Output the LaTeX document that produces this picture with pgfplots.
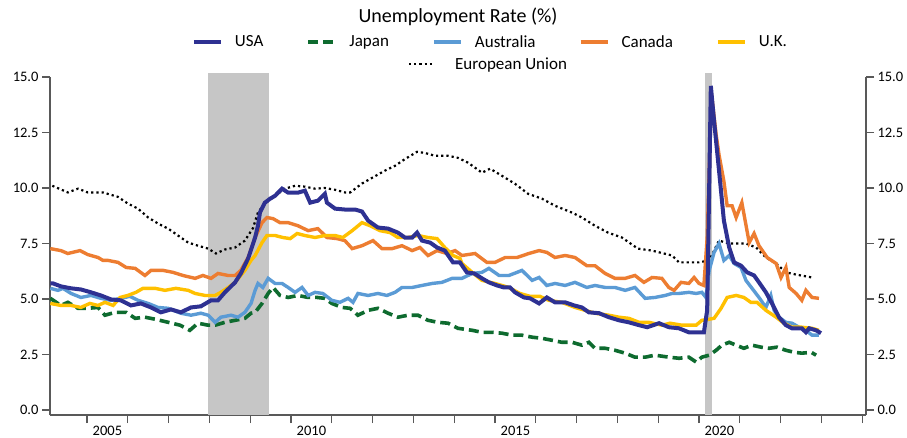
\documentclass[border=0pt]{standalone}
\usepackage{pgfplots}
\pgfplotsset{compat=1.18}
\usepackage{fontspec}
\setmainfont{Carlito}
\definecolor{usa}{HTML}{2E3192}
\definecolor{japan}{HTML}{0E6B2F}
\definecolor{aus}{HTML}{5B9BD5}
\definecolor{can}{HTML}{ED7D31}
\definecolor{uk}{HTML}{FFC000}
\definecolor{shade}{HTML}{C6C6C6}
\definecolor{axisgray}{HTML}{595959}
\pgfplotsset{
  common/.style={
    at={(50bp,23bp)}, anchor=south west,
    scale only axis, width=816bp, height=338bp,
    xmin=2004.093, xmax=2024.093, ymin=-0.225, ymax=15,
    axis line style={draw=axisgray, line width=2bp},
    tick style={draw=axisgray, line width=1.3bp},
    tick align=outside, major tick length=8bp,
    ytick={0,2.5,5,7.5,10,12.5,15},
    yticklabel style={/pgf/number format/.cd, fixed, fixed zerofill, precision=1},
    /pgf/number format/assume math mode=true,
    ticklabel style={font=\fontsize{14.5bp}{17bp}\selectfont, text=black},
  }
}
\begin{document}
\begin{tikzpicture}
\path[use as bounding box] (0,0) rectangle (907bp,438bp);
\node[anchor=base, font=\fontsize{20bp}{24bp}\selectfont] at (458bp,415bp) {Unemployment Rate (\%)};
\begin{axis}[common,
  clip=false,
  axis x line*=bottom, axis y line*=left,
  xtick={2005,2006,...,2024}, xticklabels={},
  extra x ticks={2005.5,2010.5,2015.5,2020.5},
  extra x tick labels={2005,2010,2015,2020},
  extra x tick style={tick style={draw=none}},
  legend columns=5,
  legend image code/.code={\draw[#1] (0bp,0bp) -- (27bp,0bp);},
  legend style={at={(0.174,1.1036)}, anchor=west, draw=none, fill=none,
    inner sep=0bp, outer sep=0bp,
    font=\fontsize{17bp}{20bp}\selectfont,
    nodes={inner sep=0bp},
    /tikz/every odd column/.append style={column sep=12bp},
    /tikz/every even column/.append style={column sep=43bp}},
]
\addlegendimage{usa, line width=4bp}
\addlegendentry{USA}
\addlegendimage{japan, line width=4bp, dash pattern=on 10bp off 5bp}
\addlegendentry{Japan}
\addlegendimage{aus, line width=4bp}
\addlegendentry{Australia}
\addlegendimage{can, line width=4bp}
\addlegendentry{Canada}
\addlegendimage{uk, line width=4bp}
\addlegendentry{U.K.}
% recession shading
\addplot[forget plot, fill=shade, draw=none] coordinates {(2007.97,-0.225) (2007.97,15.18) (2009.46,15.18) (2009.46,-0.225)} -- cycle;
\addplot[forget plot, fill=shade, draw=none] coordinates {(2020.15,-0.225) (2020.15,15.18) (2020.32,15.18) (2020.32,-0.225)} -- cycle;
% EU
\addplot[forget plot, black, line width=2.2bp, dash pattern=on 2.2bp off 3bp] coordinates {
(2004.15,10.1) (2004.53,9.8) (2004.78,9.97) (2005.02,9.8) (2005.39,9.8) (2005.76,9.6) (2006.0,9.3) (2006.25,9.07) (2006.5,8.67) (2006.74,8.4) (2006.99,8.17) (2007.23,7.86) (2007.48,7.54) (2007.72,7.4) (2007.97,7.27) (2008.16,7.05) (2008.38,7.23) (2008.63,7.32) (2008.87,7.63) (2009.07,8.2) (2009.19,8.9) (2009.36,9.3) (2009.61,9.65) (2009.85,9.97) (2010.1,10.1) (2010.34,10.06) (2010.59,9.97) (2010.83,10.0) (2011.08,9.92) (2011.32,9.8) (2011.45,9.8) (2011.74,10.2) (2011.99,10.46) (2012.3,10.78) (2012.55,11.0) (2012.79,11.3) (2013.09,11.63) (2013.28,11.58) (2013.53,11.45) (2013.85,11.45) (2014.09,11.36) (2014.34,11.14) (2014.68,10.69) (2014.88,10.87) (2015.17,10.55) (2015.49,10.19) (2015.81,9.74) (2016.15,9.52) (2016.47,9.2) (2016.89,8.89) (2017.13,8.67) (2017.45,8.3) (2017.77,7.99) (2018.11,7.77) (2018.5,7.27) (2018.85,7.18) (2019.34,6.96) (2019.51,6.65) (2020.0,6.65) (2020.25,6.74) (2020.49,7.63) (2020.74,7.5) (2021.15,7.5) (2021.4,7.32) (2021.64,6.87) (2021.89,6.6) (2022.13,6.2) (2022.38,6.1) (2022.77,5.97)};
% Japan
\addplot[forget plot, japan, line width=3.6bp, dash pattern=on 10bp off 5bp] coordinates {
(2004.1,5.03) (2004.36,4.71) (2004.53,4.85) (2004.78,4.58) (2005.02,4.58) (2005.27,4.62) (2005.44,4.27) (2005.69,4.4) (2005.96,4.4) (2006.18,4.13) (2006.42,4.18) (2006.67,4.09) (2006.99,3.95) (2007.28,3.82) (2007.52,3.59) (2007.72,3.91) (2007.97,3.82) (2008.14,3.82) (2008.38,3.95) (2008.63,4.04) (2008.87,4.13) (2009.02,4.36) (2009.12,4.4) (2009.29,4.8) (2009.44,5.25) (2009.56,5.52) (2009.73,5.16) (2009.93,5.07) (2010.17,5.16) (2010.42,5.07) (2010.64,5.07) (2010.83,5.03) (2011.0,4.8) (2011.25,4.62) (2011.45,4.58) (2011.64,4.27) (2011.89,4.49) (2012.13,4.58) (2012.38,4.36) (2012.62,4.18) (2012.87,4.27) (2013.11,4.27) (2013.36,4.04) (2013.6,3.95) (2013.85,3.91) (2014.09,3.68) (2014.44,3.59) (2014.68,3.5) (2014.93,3.5) (2015.17,3.46) (2015.42,3.37) (2015.66,3.37) (2015.91,3.28) (2016.15,3.23) (2016.4,3.14) (2016.64,3.05) (2016.89,3.05) (2017.13,2.92) (2017.3,3.05) (2017.45,2.78) (2017.7,2.78) (2017.94,2.69) (2018.19,2.56) (2018.43,2.38) (2018.68,2.38) (2018.92,2.47) (2019.26,2.38) (2019.51,2.33) (2019.75,2.38) (2019.93,2.16) (2020.07,2.38) (2020.25,2.47) (2020.42,2.69) (2020.56,2.92) (2020.74,3.05) (2020.91,2.92) (2021.1,2.78) (2021.3,2.92) (2021.52,2.83) (2021.72,2.78) (2021.91,2.83) (2022.13,2.69) (2022.33,2.6) (2022.52,2.56) (2022.75,2.6) (2022.87,2.47)};
% Australia
\addplot[forget plot, aus, line width=3.4bp] coordinates {
(2004.1,5.48) (2004.29,5.39) (2004.41,5.48) (2004.61,5.25) (2004.85,5.07) (2005.1,5.16) (2005.34,5.03) (2005.59,4.94) (2005.83,5.03) (2006.05,5.12) (2006.25,4.94) (2006.5,4.8) (2006.74,4.62) (2006.99,4.58) (2007.3,4.36) (2007.55,4.27) (2007.79,4.36) (2007.97,4.27) (2008.14,3.95) (2008.28,4.18) (2008.53,4.27) (2008.7,4.18) (2008.87,4.4) (2009.02,4.8) (2009.12,5.39) (2009.19,5.7) (2009.31,5.52) (2009.44,5.93) (2009.61,5.7) (2009.78,5.7) (2009.93,5.52) (2010.1,5.3) (2010.27,5.52) (2010.42,5.16) (2010.59,5.3) (2010.78,5.25) (2011.0,4.94) (2011.2,4.85) (2011.4,5.03) (2011.52,4.85) (2011.64,5.25) (2011.89,5.16) (2012.13,5.25) (2012.35,5.16) (2012.55,5.3) (2012.72,5.52) (2012.97,5.52) (2013.21,5.61) (2013.46,5.7) (2013.7,5.75) (2013.95,5.93) (2014.19,5.93) (2014.44,6.15) (2014.68,6.2) (2014.85,6.38) (2015.1,6.06) (2015.34,6.06) (2015.54,6.2) (2015.66,6.29) (2015.91,5.84) (2016.08,5.97) (2016.27,5.61) (2016.47,5.7) (2016.72,5.61) (2016.96,5.75) (2017.25,5.52) (2017.45,5.61) (2017.7,5.52) (2017.94,5.52) (2018.19,5.39) (2018.43,5.52) (2018.68,5.03) (2018.92,5.07) (2019.17,5.16) (2019.34,5.25) (2019.51,5.25) (2019.75,5.3) (2019.93,5.25) (2020.07,5.3) (2020.17,5.07) (2020.25,6.29) (2020.37,7.1) (2020.49,7.5) (2020.61,6.74) (2020.74,6.96) (2020.86,6.6) (2021.03,6.42) (2021.15,5.84) (2021.3,5.48) (2021.47,5.07) (2021.64,4.62) (2021.76,5.16) (2021.84,4.49) (2021.96,4.18) (2022.13,3.95) (2022.28,3.91) (2022.45,3.73) (2022.62,3.59) (2022.77,3.37) (2022.94,3.37)};
% Canada
\addplot[forget plot, can, line width=3.4bp] coordinates {
(2004.1,7.27) (2004.36,7.18) (2004.53,7.05) (2004.83,7.18) (2005.02,7.0) (2005.27,6.87) (2005.39,6.74) (2005.51,6.74) (2005.76,6.65) (2005.96,6.42) (2006.18,6.38) (2006.42,6.06) (2006.57,6.29) (2006.86,6.29) (2007.11,6.2) (2007.35,6.06) (2007.65,5.93) (2007.84,6.06) (2008.04,5.93) (2008.21,6.15) (2008.46,6.06) (2008.63,6.06) (2008.77,6.29) (2008.95,6.87) (2009.12,7.77) (2009.29,8.44) (2009.41,8.67) (2009.56,8.62) (2009.73,8.44) (2009.93,8.44) (2010.17,8.3) (2010.42,8.08) (2010.66,8.17) (2010.88,7.77) (2011.13,7.72) (2011.32,7.63) (2011.5,7.27) (2011.74,7.4) (2012.01,7.63) (2012.23,7.27) (2012.48,7.27) (2012.72,7.4) (2012.97,7.18) (2013.16,7.32) (2013.36,6.96) (2013.58,7.18) (2013.82,7.05) (2014.02,7.18) (2014.19,6.96) (2014.51,7.05) (2014.8,6.65) (2015.0,6.65) (2015.25,6.87) (2015.54,6.87) (2015.83,7.05) (2016.08,7.18) (2016.27,7.1) (2016.47,6.87) (2016.72,6.96) (2016.96,6.87) (2017.25,6.5) (2017.45,6.5) (2017.7,6.15) (2017.94,5.93) (2018.19,5.93) (2018.43,6.06) (2018.65,5.75) (2018.85,5.97) (2019.09,5.93) (2019.26,5.52) (2019.39,5.39) (2019.56,5.75) (2019.75,5.7) (2019.88,5.97) (2020.0,5.7) (2020.12,5.61) (2020.2,7.77) (2020.29,13.2) (2020.34,13.7) (2020.42,12.4) (2020.49,11.5) (2020.61,10.3) (2020.69,9.2) (2020.81,9.2) (2020.91,8.67) (2021.05,9.34) (2021.23,7.54) (2021.35,7.95) (2021.47,7.4) (2021.67,6.87) (2021.89,6.6) (2022.01,5.97) (2022.13,6.42) (2022.21,5.52) (2022.38,5.25) (2022.52,4.94) (2022.62,5.39) (2022.77,5.07) (2022.94,5.03)};
% UK
\addplot[forget plot, uk, line width=3.4bp] coordinates {
(2004.1,4.8) (2004.36,4.71) (2004.61,4.71) (2004.85,4.62) (2005.07,4.8) (2005.27,4.71) (2005.44,4.85) (2005.64,4.71) (2005.81,5.07) (2006.0,5.16) (2006.2,5.3) (2006.37,5.48) (2006.67,5.48) (2006.91,5.39) (2007.18,5.48) (2007.48,5.39) (2007.65,5.25) (2007.89,5.16) (2008.14,5.16) (2008.28,5.3) (2008.46,5.52) (2008.63,5.75) (2008.87,6.29) (2009.02,6.74) (2009.12,6.96) (2009.29,7.54) (2009.41,7.86) (2009.61,7.86) (2009.8,7.77) (2009.98,7.72) (2010.15,7.95) (2010.34,7.86) (2010.59,7.77) (2010.83,7.86) (2011.08,7.86) (2011.27,7.77) (2011.5,8.08) (2011.74,8.44) (2011.94,8.3) (2012.18,8.08) (2012.43,7.99) (2012.62,7.77) (2012.87,7.77) (2013.11,7.86) (2013.36,7.77) (2013.58,7.72) (2013.77,7.32) (2013.97,6.96) (2014.14,6.83) (2014.19,6.6) (2014.44,6.2) (2014.68,5.84) (2015.0,5.7) (2015.34,5.52) (2015.61,5.25) (2015.86,5.12) (2016.1,5.12) (2016.32,4.94) (2016.64,4.85) (2016.96,4.62) (2017.21,4.49) (2017.45,4.36) (2017.79,4.27) (2018.04,4.18) (2018.28,4.13) (2018.53,3.95) (2018.77,3.95) (2019.09,3.82) (2019.29,3.91) (2019.58,3.82) (2019.93,3.82) (2020.07,4.04) (2020.25,4.09) (2020.37,4.13) (2020.54,4.58) (2020.69,5.07) (2020.91,5.16) (2021.1,5.07) (2021.27,4.85) (2021.42,4.85) (2021.64,4.49) (2021.89,4.18) (2022.08,3.91) (2022.28,3.73) (2022.52,3.73) (2022.77,3.68) (2022.94,3.59)};
% USA
\addplot[forget plot, usa, line width=4bp] coordinates {
(2004.1,5.7) (2004.17,5.7) (2004.36,5.57) (2004.61,5.48) (2004.85,5.43) (2005.1,5.3) (2005.34,5.16) (2005.59,4.98) (2005.83,4.94) (2006.08,4.71) (2006.32,4.8) (2006.57,4.62) (2006.81,4.4) (2007.06,4.53) (2007.3,4.4) (2007.55,4.62) (2007.79,4.67) (2008.04,4.94) (2008.21,4.94) (2008.38,5.3) (2008.63,5.75) (2008.77,6.15) (2008.95,6.83) (2009.12,7.77) (2009.19,8.3) (2009.24,8.9) (2009.36,9.34) (2009.49,9.52) (2009.61,9.65) (2009.78,9.97) (2009.93,9.79) (2010.17,9.79) (2010.34,9.88) (2010.47,9.34) (2010.66,9.43) (2010.83,9.74) (2010.88,9.34) (2011.08,9.07) (2011.32,9.03) (2011.57,9.03) (2011.74,8.94) (2011.89,8.53) (2012.13,8.22) (2012.38,8.17) (2012.62,7.99) (2012.79,7.77) (2012.97,7.77) (2013.09,7.99) (2013.21,7.63) (2013.41,7.54) (2013.58,7.32) (2013.77,7.18) (2013.97,6.65) (2014.14,6.65) (2014.31,6.2) (2014.49,6.15) (2014.68,5.93) (2014.85,5.75) (2015.05,5.61) (2015.22,5.52) (2015.37,5.52) (2015.49,5.3) (2015.71,5.07) (2015.86,5.03) (2016.08,4.8) (2016.27,5.07) (2016.47,4.85) (2016.72,4.85) (2016.94,4.71) (2017.13,4.62) (2017.3,4.4) (2017.55,4.36) (2017.79,4.18) (2018.04,4.04) (2018.28,3.95) (2018.53,3.82) (2018.73,3.73) (2019.02,3.91) (2019.26,3.73) (2019.51,3.68) (2019.75,3.5) (2020.0,3.5) (2020.12,3.5) (2020.2,4.49) (2020.29,14.6) (2020.37,13.0) (2020.49,10.8) (2020.61,8.53) (2020.74,7.32) (2020.86,6.65) (2021.03,6.5) (2021.18,6.2) (2021.35,6.06) (2021.47,5.75) (2021.64,5.3) (2021.79,4.8) (2021.96,4.18) (2022.13,3.82) (2022.28,3.68) (2022.52,3.68) (2022.62,3.5) (2022.7,3.68) (2022.87,3.59) (2022.99,3.46)};
\end{axis}
\begin{axis}[common,
  hide x axis, axis y line*=right,
  legend image code/.code={\draw[#1] (0bp,0bp) -- (25bp,0bp);},
  legend style={at={(0.4387,1.0385)}, anchor=west, draw=none, fill=none,
    inner sep=0bp, outer sep=0bp,
    font=\fontsize{17bp}{20bp}\selectfont,
    nodes={inner sep=0bp},
    /tikz/every odd column/.append style={column sep=20bp}},
]
\addlegendimage{black, line width=2.2bp, dash pattern=on 2.2bp off 3bp}
\addlegendentry{European Union}
\end{axis}
\end{tikzpicture}
\end{document}
